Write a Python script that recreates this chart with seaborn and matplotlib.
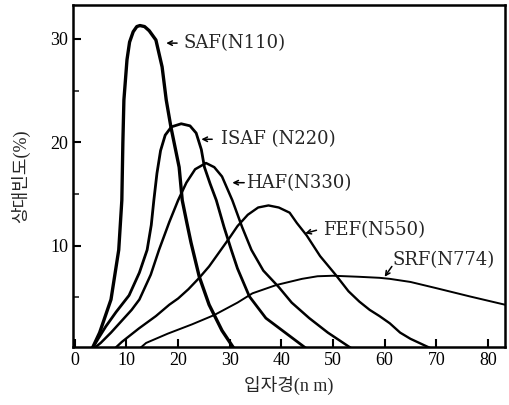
import pandas as pd
import matplotlib
matplotlib.use("Agg")
import matplotlib.pyplot as plt
import seaborn as sns

sns.set_style("ticks")
plt.rcParams['font.family'] = ['Liberation Serif', 'Noto Sans CJK KR', 'DejaVu Sans']

# particle size distribution (x: nm, y: %)
saf_x = [3.3, 4.8, 7.0, 8.5, 9.1, 9.3, 9.5, 10.1, 10.6, 11.3, 12.0, 12.6, 13.5, 14.4, 15.7,
         16.9, 17.7, 18.6, 20.2, 20.8, 21.7, 22.5, 24.1, 26.0, 27.0, 28.5, 30.9]
saf_y = [0.0, 1.6, 4.8, 9.6, 14.4, 20.0, 24.1, 28.0, 29.7, 30.7, 31.2, 31.3, 31.2, 30.8, 29.9,
         27.3, 24.1, 21.5, 17.6, 14.4, 12.2, 10.3, 7.0, 4.3, 3.3, 1.8, 0.0]

isaf_x = [3.3, 4.5, 6.0, 8.0, 10.5, 12.5, 14.0, 14.8, 15.3, 15.9, 16.6, 17.5, 18.7, 20.6,
          22.3, 23.5, 24.5, 25.1, 26.2, 27.4, 28.9, 30.3, 31.5, 33.8, 37.0, 41.0, 45.0]
isaf_y = [0.0, 1.0, 2.2, 3.6, 5.2, 7.4, 9.6, 12.0, 14.4, 17.0, 19.2, 20.7, 21.5, 21.8,
          21.6, 20.9, 19.3, 17.6, 16.0, 14.4, 11.8, 9.6, 7.8, 5.1, 3.0, 1.5, 0.0]

haf_x = [3.5, 5.0, 7.0, 9.0, 11.0, 12.5, 14.7, 16.3, 18.3, 20.0, 21.6, 23.3, 25.4, 27.0,
         28.5, 30.5, 32.4, 34.2, 36.5, 39.5, 42.0, 45.4, 49.0, 53.8]
haf_y = [0.0, 0.6, 1.6, 2.7, 3.8, 4.8, 7.2, 9.6, 12.3, 14.4, 16.1, 17.4, 18.0, 17.6,
         16.7, 14.4, 11.8, 9.6, 7.6, 6.0, 4.5, 3.0, 1.6, 0.0]

fef_x = [7.6, 9.1, 12.4, 15.7, 18.3, 20.0, 22.0, 24.1, 26.0, 28.0, 30.0, 31.5, 33.5, 35.5,
         37.5, 39.5, 41.6, 43.0, 44.9, 47.5, 50.5, 53.0, 55.1, 57.1, 59.0, 61.0, 63.0,
         65.0, 69.3]
fef_y = [0.0, 0.7, 2.0, 3.2, 4.3, 4.9, 5.8, 6.9, 8.0, 9.4, 10.8, 11.9, 13.0, 13.7,
         13.9, 13.7, 13.2, 12.2, 11.0, 9.0, 7.2, 5.6, 4.6, 3.8, 3.2, 2.5, 1.6,
         1.0, 0.0]

srf_x = [12.4, 13.8, 18.0, 22.7, 27.0, 31.5, 34.4, 39.0, 44.0, 47.0, 50.0, 55.0, 59.0,
         61.0, 65.0, 70.0, 76.5, 83.3]
srf_y = [0.0, 0.6, 1.5, 2.4, 3.3, 4.5, 5.4, 6.2, 6.8, 7.05, 7.1, 7.0, 6.9,
         6.8, 6.5, 5.9, 5.1, 4.3]

series = [
    ("SAF(N110)", saf_x, saf_y, 2.4),
    ("ISAF (N220)", isaf_x, isaf_y, 2.0),
    ("HAF(N330)", haf_x, haf_y, 1.8),
    ("FEF(N550)", fef_x, fef_y, 1.7),
    ("SRF(N774)", srf_x, srf_y, 1.4),
]

frames = []
for name, xs, ys, lw in series:
    frames.append(pd.DataFrame({"size": xs, "freq": ys, "grade": name}))
df = pd.concat(frames, ignore_index=True)

fig = plt.figure(figsize=(5.09, 4.05), dpi=100)
ax = fig.add_axes([0.143, 0.143, 0.849, 0.845])

for name, xs, ys, lw in series:
    sns.lineplot(data=df[df["grade"] == name], x="size", y="freq", ax=ax, color="black",
                 linewidth=lw, estimator=None, sort=False, legend=False)

ax.set_xlim(-0.4, 83.3)
ax.set_ylim(0.2, 33.3)
ax.set_xticks(range(0, 90, 10))
ax.set_yticks([10, 20, 30])
ax.set_yticks([5, 15, 25], minor=True)
ax.tick_params(axis="both", which="major", direction="in", length=6, width=1.5,
               labelsize=13, colors="black")
ax.tick_params(axis="y", which="minor", direction="in", length=4, width=1.2)
for s in ax.spines.values():
    s.set_linewidth(1.8)
    s.set_color("black")

ax.set_xlabel("입자경(n m)", fontsize=13, labelpad=5)
ax.set_ylabel("상대빈도(%)", fontsize=13, labelpad=14)

# curve labels with arrows
labels = [
    ("SAF(N110)", (21.0, 29.6), (17.7, 29.6), (19.8, 29.6)),
    ("ISAF (N220)", (28.3, 20.3), (24.5, 20.3), (26.6, 20.3)),
    ("HAF(N330)", (33.2, 16.1), (30.5, 16.1), (32.8, 16.1)),
    ("FEF(N550)", (48.0, 11.5), (44.6, 11.2), (46.8, 11.5)),
    ("SRF(N774)", (61.5, 8.65), (60.0, 7.0), (61.4, 8.0)),
]
for text, tpos, tip, tail in labels:
    ax.text(tpos[0], tpos[1], text, fontsize=13, family="DejaVu Serif",
            ha="left", va="center")
    ax.annotate("", xy=tip, xytext=tail,
                arrowprops=dict(arrowstyle="->", lw=1.1, color="black",
                                shrinkA=0, shrinkB=0, mutation_scale=8))

fig.savefig("out.png", dpi=100)
